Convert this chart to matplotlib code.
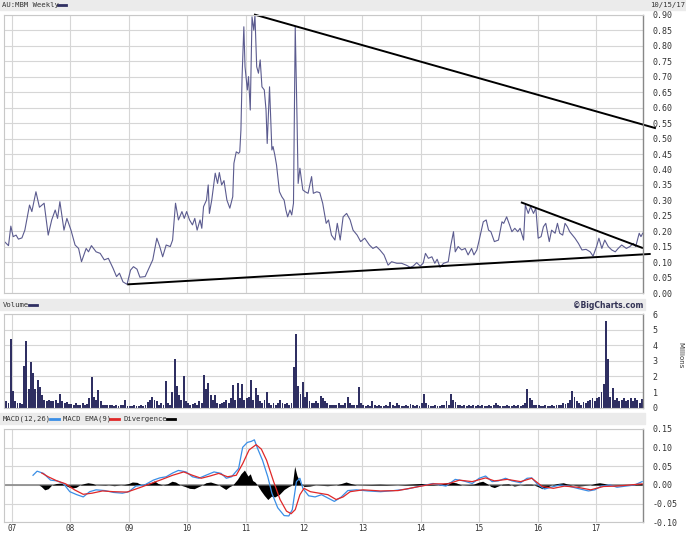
import matplotlib
matplotlib.use("Agg")
import matplotlib.pyplot as plt
from matplotlib.lines import Line2D
from matplotlib.patches import Rectangle
import numpy as np

# ------------------------------------------------
# Data (dates as decimal years)
# ------------------------------------------------
price_dates = [
    2006.86, 2006.94, 2006.98, 2007.02, 2007.07, 2007.11, 2007.17, 2007.22, 2007.30, 2007.34,
    2007.41, 2007.47, 2007.55, 2007.62, 2007.68, 2007.74, 2007.78, 2007.82, 2007.89, 2007.94,
    2008.01, 2008.08, 2008.14, 2008.19, 2008.27, 2008.31, 2008.36, 2008.44, 2008.51, 2008.58,
    2008.65, 2008.73, 2008.79, 2008.84, 2008.90, 2008.97, 2009.03, 2009.08, 2009.14, 2009.19,
    2009.28, 2009.33, 2009.41, 2009.48, 2009.53, 2009.58, 2009.64, 2009.71, 2009.75, 2009.80,
    2009.85, 2009.91, 2009.95, 2009.99, 2010.04, 2010.09, 2010.13, 2010.17, 2010.22, 2010.25,
    2010.28, 2010.33, 2010.36, 2010.38, 2010.42, 2010.48, 2010.52, 2010.55, 2010.59, 2010.63,
    2010.68, 2010.73, 2010.78, 2010.80, 2010.84, 2010.88, 2010.90, 2010.92, 2010.94, 2010.97,
    2010.99, 2011.03, 2011.05, 2011.08, 2011.11, 2011.14, 2011.16, 2011.19, 2011.22, 2011.25,
    2011.28, 2011.32, 2011.35, 2011.37, 2011.41, 2011.45, 2011.47, 2011.50, 2011.53, 2011.58,
    2011.62, 2011.66, 2011.69, 2011.72, 2011.76, 2011.79, 2011.82, 2011.85, 2011.88, 2011.90,
    2011.93, 2011.98, 2012.02, 2012.07, 2012.13, 2012.16, 2012.22, 2012.27, 2012.32, 2012.38,
    2012.42, 2012.47, 2012.53, 2012.57, 2012.62, 2012.67, 2012.73, 2012.79, 2012.84, 2012.91,
    2012.97, 2013.04, 2013.12, 2013.18, 2013.24, 2013.30, 2013.37, 2013.44, 2013.50, 2013.59,
    2013.67, 2013.75, 2013.82, 2013.87, 2013.93, 2013.99, 2014.04, 2014.08, 2014.13, 2014.19,
    2014.24, 2014.28, 2014.33, 2014.39, 2014.47, 2014.51, 2014.56, 2014.59, 2014.64, 2014.70,
    2014.76, 2014.81, 2014.87, 2014.91, 2014.96, 2015.00, 2015.07, 2015.12, 2015.16, 2015.20,
    2015.26, 2015.33, 2015.39, 2015.42, 2015.47, 2015.52, 2015.56, 2015.61, 2015.66, 2015.70,
    2015.76, 2015.79, 2015.84, 2015.88, 2015.93, 2015.97, 2016.01, 2016.06, 2016.10, 2016.14,
    2016.20, 2016.24, 2016.30, 2016.34, 2016.38, 2016.43, 2016.47, 2016.51, 2016.55, 2016.64,
    2016.70, 2016.76, 2016.83, 2016.90, 2016.95, 2017.01, 2017.05, 2017.10, 2017.15, 2017.21,
    2017.27, 2017.33, 2017.38, 2017.44, 2017.52, 2017.58, 2017.64, 2017.68, 2017.74, 2017.77,
    2017.80,
]
price_vals = [
    0.169, 0.154, 0.217, 0.183, 0.188, 0.175, 0.179, 0.204, 0.285, 0.264,
    0.328, 0.278, 0.291, 0.188, 0.237, 0.269, 0.242, 0.296, 0.204, 0.242,
    0.204, 0.156, 0.145, 0.102, 0.145, 0.134, 0.154, 0.134, 0.129, 0.108,
    0.113, 0.081, 0.054, 0.065, 0.037, 0.029, 0.075, 0.086, 0.078, 0.052,
    0.054, 0.075, 0.108, 0.178, 0.151, 0.118, 0.156, 0.151, 0.172, 0.291,
    0.237, 0.264, 0.242, 0.264, 0.237, 0.221, 0.242, 0.204, 0.237, 0.210,
    0.280, 0.301, 0.350, 0.258, 0.301, 0.388, 0.355, 0.390, 0.350, 0.364,
    0.301, 0.275, 0.312, 0.420, 0.457, 0.452, 0.457, 0.527, 0.700, 0.861,
    0.732, 0.657, 0.700, 0.592, 0.893, 0.850, 0.899, 0.732, 0.711, 0.754,
    0.667, 0.657, 0.592, 0.484, 0.667, 0.463, 0.474, 0.447, 0.414, 0.328,
    0.312, 0.301, 0.269, 0.247, 0.269, 0.253, 0.291, 0.861, 0.570, 0.355,
    0.404, 0.334, 0.328, 0.323, 0.377, 0.323, 0.328, 0.325, 0.291, 0.226,
    0.237, 0.188, 0.172, 0.226, 0.172, 0.247, 0.258, 0.237, 0.204, 0.188,
    0.167, 0.178, 0.156, 0.145, 0.151, 0.140, 0.124, 0.091, 0.102, 0.097,
    0.097, 0.091, 0.084, 0.088, 0.099, 0.088, 0.097, 0.129, 0.113, 0.118,
    0.097, 0.110, 0.084, 0.097, 0.102, 0.151, 0.199, 0.134, 0.151, 0.140,
    0.145, 0.124, 0.145, 0.124, 0.140, 0.172, 0.231, 0.237, 0.204, 0.199,
    0.167, 0.172, 0.231, 0.226, 0.247, 0.221, 0.199, 0.210, 0.199, 0.210,
    0.172, 0.285, 0.258, 0.280, 0.258, 0.275, 0.178, 0.183, 0.215, 0.226,
    0.167, 0.204, 0.194, 0.226, 0.194, 0.188, 0.226, 0.215, 0.199, 0.178,
    0.161, 0.140, 0.142, 0.134, 0.120, 0.151, 0.178, 0.145, 0.172, 0.151,
    0.140, 0.134, 0.145, 0.156, 0.145, 0.151, 0.161, 0.151, 0.194, 0.183,
    0.194,
]

# hand-drawn trend lines (start/end date, start/end price)
trend_top_x = [2011.16, 2018.01]
trend_top_y = [0.900, 0.534]
trend_low_x = [2008.99, 2017.92]
trend_low_y = [0.029, 0.127]
trend_small_x = [2015.73, 2017.79]
trend_small_y = [0.293, 0.147]

# volume, millions, one value per two weeks starting at vol_start
vol_start = 2006.885
vol_2006 = [0.45, 0.3, 4.4]
vol_2007 = [1.1, 0.4, 0.3, 0.3, 0.25, 2.7, 4.3, 1.2, 2.9, 2.2, 1.2, 1.8, 1.3,
            0.8, 0.5, 0.4, 0.5, 0.45, 0.4, 0.5, 0.3, 0.87, 0.4, 0.3, 0.35, 0.25]
vol_2008 = [0.25, 0.2, 0.3, 0.15, 0.2, 0.3, 0.2, 0.25, 0.6, 1.94, 0.7, 0.5, 1.13,
            0.4, 0.2, 0.2, 0.15, 0.2, 0.15, 0.1, 0.15, 0.1, 0.2, 0.15, 0.5, 0.1]
vol_2009 = [0.1, 0.1, 0.15, 0.1, 0.1, 0.15, 0.1, 0.2, 0.35, 0.5, 0.66, 0.5, 0.4,
            0.2, 0.3, 0.2, 1.7, 0.3, 0.2, 1.0, 3.15, 1.4, 0.8, 0.5, 2.06, 0.4]
vol_2010 = [0.3, 0.2, 0.25, 0.3, 0.2, 0.4, 0.3, 2.08, 1.2, 1.55, 0.8, 0.5, 0.8,
            0.3, 0.25, 0.3, 0.35, 0.5, 0.3, 0.6, 1.45, 0.5, 1.6, 0.6, 1.5, 0.5]
vol_2011 = [0.6, 0.7, 1.8, 0.5, 1.28, 0.8, 0.4, 0.3, 0.5, 0.98, 0.3, 0.2, 0.3,
            0.2, 0.3, 0.5, 0.3, 0.25, 0.3, 0.2, 0.3, 2.6, 4.7, 1.4, 0.9, 1.66]
vol_2012 = [0.7, 1.0, 0.4, 0.3, 0.3, 0.4, 0.3, 0.74, 0.6, 0.4, 0.3, 0.2, 0.2,
            0.15, 0.2, 0.3, 0.2, 0.15, 0.3, 0.66, 0.3, 0.2, 0.15, 0.2, 1.34, 0.3]
vol_2013 = [0.15, 0.1, 0.2, 0.1, 0.45, 0.15, 0.1, 0.15, 0.1, 0.1, 0.15, 0.1, 0.35,
            0.15, 0.1, 0.3, 0.15, 0.1, 0.1, 0.2, 0.1, 0.25, 0.15, 0.1, 0.15, 0.1]
vol_2014 = [0.3, 0.9, 0.3, 0.15, 0.1, 0.1, 0.15, 0.1, 0.1, 0.15, 0.2, 0.4, 0.2,
            0.85, 0.5, 0.35, 0.2, 0.15, 0.1, 0.15, 0.1, 0.2, 0.1, 0.15, 0.1, 0.15]
vol_2015 = [0.1, 0.15, 0.1, 0.1, 0.15, 0.1, 0.2, 0.3, 0.15, 0.1, 0.1, 0.1, 0.15,
            0.1, 0.1, 0.15, 0.1, 0.15, 0.1, 0.2, 0.3, 1.17, 0.6, 0.5, 0.2, 0.15]
vol_2016 = [0.15, 0.1, 0.1, 0.15, 0.1, 0.1, 0.15, 0.1, 0.2, 0.15, 0.2, 0.3, 0.25,
            0.3, 0.5, 1.06, 0.7, 0.4, 0.3, 0.2, 0.35, 0.3, 0.4, 0.5, 0.6, 0.4]
vol_2017 = [0.6, 0.7, 1.0, 1.5, 5.55, 3.15, 0.7, 1.23, 0.5, 0.6, 0.4, 0.5, 0.6,
            0.4, 0.5, 0.6, 0.4, 0.6, 0.5, 0.3, 0.55]

# MACD(12,26) and its 9-period EMA
macd_dates = [
    2007.36, 2007.43, 2007.54, 2007.66, 2007.77, 2007.88, 2007.99, 2008.11, 2008.22, 2008.33,
    2008.44, 2008.59, 2008.74, 2008.89, 2009.00, 2009.12, 2009.27, 2009.42, 2009.53, 2009.64,
    2009.75, 2009.85, 2009.98, 2010.09, 2010.20, 2010.32, 2010.46, 2010.58, 2010.67, 2010.76,
    2010.88, 2010.95, 2011.03, 2011.10, 2011.15, 2011.21, 2011.29, 2011.38, 2011.45, 2011.55,
    2011.66, 2011.74, 2011.80, 2011.87, 2011.93, 2011.98, 2012.08, 2012.19, 2012.30, 2012.41,
    2012.52, 2012.64, 2012.75, 2012.90, 2013.09, 2013.31, 2013.54, 2013.76, 2013.99, 2014.21,
    2014.43, 2014.59, 2014.73, 2014.88, 2015.00, 2015.11, 2015.22, 2015.33, 2015.45, 2015.56,
    2015.71, 2015.82, 2015.90, 2016.01, 2016.12, 2016.23, 2016.38, 2016.53, 2016.68, 2016.87,
    2016.98, 2017.09, 2017.24, 2017.36, 2017.51, 2017.66, 2017.79,
]
macd_vals = [
    0.026, 0.037, 0.031, 0.013, 0.011, 0.004, -0.018, -0.026, -0.032, -0.018,
    -0.013, -0.015, -0.020, -0.022, -0.018, -0.003, 0.000, 0.013, 0.019, 0.022,
    0.032, 0.039, 0.035, 0.022, 0.018, 0.026, 0.035, 0.031, 0.018, 0.022,
    0.044, 0.101, 0.114, 0.117, 0.121, 0.096, 0.066, 0.022, -0.022, -0.061,
    -0.082, -0.083, -0.066, 0.009, 0.018, -0.009, -0.029, -0.032, -0.026, -0.035,
    -0.044, -0.032, -0.015, -0.013, -0.016, -0.018, -0.015, -0.011, -0.003, 0.004,
    -0.003, 0.015, 0.011, 0.004, 0.018, 0.024, 0.009, 0.011, 0.018, 0.011,
    0.006, 0.018, 0.019, 0.000, -0.011, -0.006, 0.000, -0.003, -0.009, -0.016,
    -0.013, -0.003, 0.000, -0.006, -0.003, 0.000, 0.009,
]
ema_dates = [
    2007.51, 2007.62, 2007.77, 2007.92, 2008.07, 2008.22, 2008.37, 2008.55, 2008.74, 2008.97,
    2009.19, 2009.38, 2009.57, 2009.75, 2009.94, 2010.09, 2010.24, 2010.39, 2010.54, 2010.69,
    2010.84, 2010.95, 2011.06, 2011.18, 2011.27, 2011.36, 2011.48, 2011.59, 2011.70, 2011.78,
    2011.85, 2011.93, 2012.00, 2012.11, 2012.26, 2012.41, 2012.55, 2012.67, 2012.79, 2013.01,
    2013.31, 2013.61, 2013.91, 2014.21, 2014.47, 2014.66, 2014.88, 2015.11, 2015.26, 2015.48,
    2015.71, 2015.90, 2016.08, 2016.27, 2016.46, 2016.68, 2016.91, 2017.13, 2017.36, 2017.58,
    2017.79,
]
ema_vals = [
    0.032, 0.022, 0.011, 0.003, -0.013, -0.025, -0.022, -0.016, -0.018, -0.019,
    -0.007, 0.004, 0.015, 0.026, 0.035, 0.026, 0.018, 0.024, 0.031, 0.022,
    0.026, 0.057, 0.094, 0.108, 0.096, 0.066, 0.009, -0.039, -0.070, -0.077,
    -0.066, -0.026, -0.009, -0.018, -0.022, -0.026, -0.039, -0.032, -0.018, -0.013,
    -0.016, -0.015, -0.006, 0.003, 0.003, 0.013, 0.009, 0.019, 0.011, 0.015,
    0.009, 0.018, -0.004, -0.009, -0.003, -0.006, -0.013, -0.004, -0.003, 0.000,
    0.003,
]
div_dates = [
    2007.36, 2007.46, 2007.50, 2007.56, 2007.62, 2007.68, 2007.76, 2007.84, 2007.90, 2007.98,
    2008.04, 2008.10, 2008.16, 2008.24, 2008.30, 2008.38, 2008.44, 2008.60, 2008.75, 2008.92,
    2009.00, 2009.06, 2009.14, 2009.22, 2009.30, 2009.38, 2009.44, 2009.50, 2009.58, 2009.66,
    2009.74, 2009.80, 2009.88, 2009.96, 2010.04, 2010.12, 2010.20, 2010.26, 2010.32, 2010.40,
    2010.48, 2010.54, 2010.60, 2010.66, 2010.72, 2010.78, 2010.86, 2010.92, 2010.98, 2011.04,
    2011.08, 2011.12, 2011.16, 2011.20, 2011.26, 2011.32, 2011.38, 2011.44, 2011.50, 2011.58,
    2011.66, 2011.74, 2011.80, 2011.84, 2011.88, 2011.94, 2012.00, 2012.10, 2012.20, 2012.40,
    2012.55, 2012.64, 2012.72, 2012.80, 2012.90, 2013.30, 2013.60, 2014.00, 2014.10, 2014.30,
    2014.40, 2014.50, 2014.60, 2014.70, 2014.90, 2015.00, 2015.06, 2015.14, 2015.20, 2015.26,
    2015.32, 2015.40, 2015.50, 2015.60, 2015.70, 2015.80, 2015.90, 2016.00, 2016.08, 2016.16,
    2016.24, 2016.34, 2016.44, 2016.50, 2016.60, 2016.70, 2016.90, 2016.98, 2017.06, 2017.14,
    2017.24, 2017.40, 2017.55, 2017.66, 2017.79,
]
div_vals = [
    0.000, 0.000, -0.004, -0.013, -0.010, 0.000, 0.004, 0.005, 0.000, -0.006,
    -0.008, -0.006, 0.000, 0.004, 0.006, 0.004, 0.000, 0.001, -0.002, 0.001,
    0.004, 0.008, 0.007, 0.000, 0.004, 0.006, 0.011, 0.004, 0.000, 0.003,
    0.010, 0.008, 0.000, -0.004, -0.009, -0.010, -0.004, 0.000, 0.006, 0.008,
    0.004, 0.000, -0.006, -0.012, -0.005, 0.000, 0.015, 0.030, 0.040, 0.024,
    0.030, 0.012, 0.008, 0.000, -0.015, -0.028, -0.039, -0.030, -0.032, -0.025,
    -0.012, -0.004, 0.000, 0.050, 0.025, 0.005, -0.004, -0.003, 0.000, -0.002,
    0.000, 0.004, 0.008, 0.004, 0.000, 0.002, 0.000, 0.004, 0.003, 0.000,
    0.005, 0.008, 0.006, 0.000, 0.002, 0.008, 0.010, 0.003, -0.004, -0.007,
    -0.003, 0.002, 0.003, -0.003, 0.000, 0.002, 0.002, -0.004, -0.010, -0.006,
    0.000, 0.004, 0.006, 0.003, 0.000, -0.003, 0.000, 0.004, 0.006, 0.004,
    0.000, 0.001, 0.000, 0.003, 0.004,
]

year_ticks = list(range(2007, 2018))
year_labels = ["07", "08", "09", "10", "11", "12", "13", "14", "15", "16", "17"]
price_ticks = [round(0.05 * i, 2) for i in range(19)]
vol_ticks = [0, 1, 2, 3, 4, 5, 6]
macd_ticks = [-0.10, -0.05, 0.00, 0.05, 0.10, 0.15]

# ------------------------------------------------
# Figure layout (pixel based, 686 x 533)
# ------------------------------------------------
W, H = 686, 533
fig = plt.figure(figsize=(W / 100, H / 100), dpi=100)
fig.patch.set_facecolor("white")

def px_rect(x0, y0, x1, y1):
    return [x0 / W, 1 - y1 / H, (x1 - x0) / W, (y1 - y0) / H]

GRID = "#d6d6d6"
TXT = "#333333"
LINE = "#5b5b8f"
NAVY = "#2f2f62"
mono = "DejaVu Sans Mono"
x_left, x_right = 2006.863, 2017.805

# header bands
for (x0, y0, x1, y1) in [(0, 0, 686, 10), (0, 299, 645, 310), (0, 413, 645, 424)]:
    fig.patches.append(Rectangle((x0 / W, 1 - y1 / H), (x1 - x0) / W, (y1 - y0) / H,
                                 transform=fig.transFigure, color="#ebebeb", zorder=0))

def style_axes(ax, yticks, ylabels):
    ax.set_xlim(x_left, x_right)
    ax.set_xticks(year_ticks)
    ax.set_yticks(yticks)
    ax.set_yticklabels(ylabels)
    ax.yaxis.tick_right()
    ax.tick_params(axis="y", length=0, pad=7, labelsize=6, labelcolor=TXT)
    for lab in ax.get_yticklabels():
        lab.set_family(mono)
    ax.tick_params(axis="x", length=0)
    ax.grid(True, color=GRID, lw=0.8)
    ax.set_axisbelow(True)
    for s in ["left", "top", "bottom"]:
        ax.spines[s].set_color("#c8c8c8")
        ax.spines[s].set_linewidth(0.8)
    ax.spines["right"].set_color("#888888")
    ax.spines["right"].set_linewidth(1.0)

# ---- price panel
ax_p = fig.add_axes(px_rect(4, 14.7, 643, 293.3))
ax_p.plot(price_dates, price_vals, color=LINE, lw=0.8)
ax_p.plot(trend_top_x, trend_top_y, color="black", lw=1.4, clip_on=False)
ax_p.plot(trend_low_x, trend_low_y, color="black", lw=1.4, clip_on=False)
ax_p.plot(trend_small_x, trend_small_y, color="black", lw=1.4, clip_on=False)
ax_p.set_ylim(0, 0.9)
style_axes(ax_p, price_ticks, ["%.2f" % v for v in price_ticks])
ax_p.set_xticklabels([])

# ---- volume panel
volume = vol_2006 + vol_2007 + vol_2008 + vol_2009 + vol_2010 + vol_2011 + \
    vol_2012 + vol_2013 + vol_2014 + vol_2015 + vol_2016 + vol_2017
vol_x = vol_start + np.arange(len(volume)) / 26.0
ax_v = fig.add_axes(px_rect(4, 314, 643, 407.7))
ax_v.bar(vol_x, volume, width=0.85 / 26.0, align="edge", color=NAVY, lw=0)
ax_v.set_ylim(0, 6)
style_axes(ax_v, vol_ticks, [str(v) for v in vol_ticks])
ax_v.set_xticklabels([])
fig.text(680 / W, 1 - 355 / H, "Millions", rotation=270, ha="center", va="center",
         fontsize=5, color=TXT)

# ---- MACD panel
ax_m = fig.add_axes(px_rect(4, 429, 643, 522.3))
ax_m.axhline(0, color="#888888", lw=1.2, zorder=1)
ax_m.fill_between(div_dates, div_vals, 0, color="black", lw=0, zorder=2)
ax_m.plot(macd_dates, macd_vals, color="#3a8ee6", lw=0.9, zorder=3)
ax_m.plot(ema_dates, ema_vals, color="#e02828", lw=0.9, zorder=4)
ax_m.set_ylim(-0.10, 0.15)
style_axes(ax_m, macd_ticks, ["%.2f" % v for v in macd_ticks])
ax_m.set_xticklabels(year_labels, family=mono, fontsize=5.5, color=TXT)
ax_m.tick_params(axis="x", pad=1)

# ---- header texts and swatches
def header_text(x, y, s, **kw):
    fig.text(x / W, 1 - y / H, s, ha="left", va="center", fontsize=5.2,
             color=TXT, family=mono, **kw)

def swatch(x0, x1, y, color):
    fig.add_artist(Line2D([x0 / W, x1 / W], [1 - y / H, 1 - y / H], color=color,
                          lw=2, transform=fig.transFigure))

header_text(2, 5, "AU:MBM Weekly")
swatch(58, 66, 5, NAVY)
fig.text(685 / W, 1 - 5 / H, "10/15/17", ha="right", va="center", fontsize=5.2,
         color=TXT, family=mono)

header_text(3, 305, "Volume")
swatch(29, 37, 305, NAVY)
fig.text(643 / W, 1 - 305 / H, "\u00a9BigCharts.com", ha="right", va="center",
         fontsize=5.5, color="#333355", weight="bold")

header_text(3, 419, "MACD(12,26)")
swatch(50, 59, 419, "#3a8ee6")
header_text(63, 419, "MACD EMA(9)")
swatch(110, 119, 419, "#e02828")
header_text(123, 419, "Divergence")
swatch(167, 175, 419, "black")

fig.savefig("out.png", dpi=100)
